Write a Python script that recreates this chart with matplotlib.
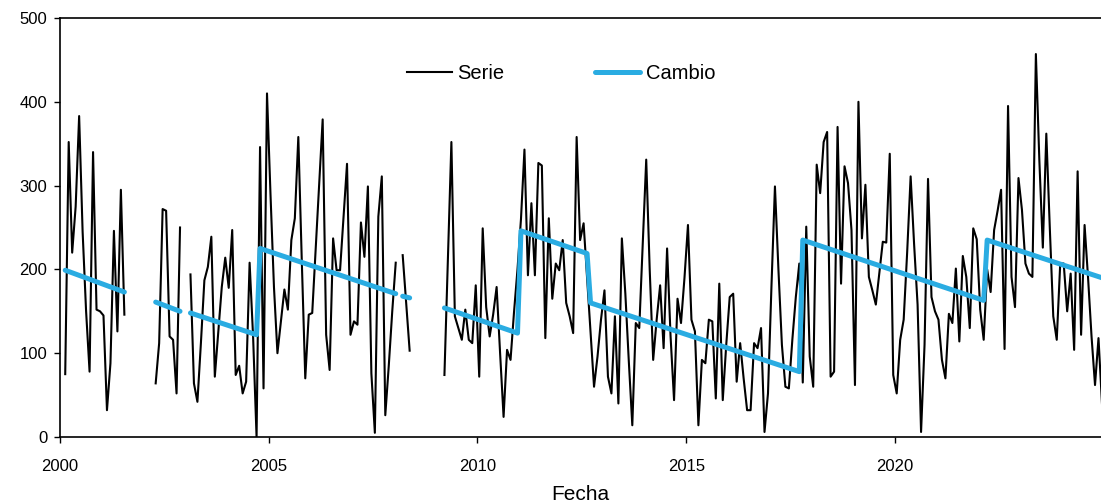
import numpy as np
import matplotlib
matplotlib.use("Agg")
import matplotlib.pyplot as plt

plt.rcParams['font.family'] = ['Liberation Sans', 'DejaVu Sans']

nan = np.nan

# monthly series, Feb 2000 .. Dec 2024 (NaN = no data)
serie_1 = [75, 352, 220, 275, 383, 245, 150, 78, 340, 152, 150, 145, 32, 88, 246, 126, 295, 146]
serie_2 = [64, 112, 272, 270, 120, 116, 52, 250]
serie_3 = [194, 64, 42, 112, 187, 203, 239, 72, 125, 179,
           214, 178, 247, 74, 85, 52, 66, 208, 120, 0,
           346, 58, 410, 290, 179, 100, 138, 176, 152, 235,
           261, 358, 210, 70, 146, 148, 225, 300, 379, 122,
           80, 237, 199, 199, 262, 326, 122, 138, 134, 256,
           215, 299, 76, 5, 263, 311, 26, 85, 150, 208]
serie_4 = [217, 160, 103]
serie_5 = [74, 215, 352, 144, 130, 116, 152, 116, 112, 181,
           72, 249, 155, 120, 146, 179, 100, 24, 104, 92,
           149, 200, 260, 343, 193, 279, 193, 327, 324, 118,
           261, 165, 207, 199, 235, 160, 144, 124, 358, 235,
           255, 190, 125, 60, 96, 140, 175, 72, 52, 144,
           40, 237, 171, 90, 14, 136, 130, 230, 331, 200,
           92, 140, 181, 106, 225, 120, 44, 165, 136, 190,
           253, 140, 126, 14, 92, 88, 140, 138, 46, 183,
           44, 110, 167, 171, 66, 112, 70, 32, 32, 112,
           106, 130, 6, 52, 180, 299, 200, 110, 60, 58,
           116, 167, 207, 65, 251, 96, 60, 325, 291, 352,
           364, 72, 78, 370, 183, 323, 303, 247, 62, 400,
           237, 301, 191, 175, 158, 195, 233, 232, 338, 74,
           52, 116, 140, 220, 311, 230, 158, 6, 110, 308,
           167, 150, 140, 92, 70, 147, 136, 201, 114, 216,
           191, 130, 249, 236, 152, 116, 200, 173, 247, 270,
           295, 105, 395, 191, 155, 309, 271, 207, 195, 191,
           457, 330, 226, 362, 250, 144, 116, 207, 207, 150,
           195, 104, 317, 122, 253, 190, 120, 62, 118, 40]

serie = (serie_1 + [nan] * 8 + serie_2 + [nan] * 2 + serie_3 + [nan]
         + serie_4 + [nan] * 9 + serie_5)

# trend with structural breaks: month index (from Feb 2000) and value
cambio_mes = [0, 17, nan, 26, 33, nan, 36, 55, 56, 95, nan, 97, 99, nan,
              109, 130, 131, 150, 151, 211, 212, 264, 265, 298]
cambio_val = [199, 173, nan, 161, 150, nan, 148, 122, 225, 171, nan, 168, 166, nan,
              154, 124, 246, 219, 160, 78, 235, 163, 235, 190]

anios = [2000, 2005, 2010, 2015, 2020]


def mes_a_anio(m):
    # month index -> decimal year (mid-month, first month = Feb 2000)
    return 2000 + (np.asarray(m, dtype=float) + 1.5) / 12


t = mes_a_anio(np.arange(len(serie)))
t_cambio = mes_a_anio(cambio_mes)

fig = plt.figure(figsize=(11.01, 5.04), dpi=100)
ax = fig.add_axes([60 / 1101, 1 - 437 / 504, 1041 / 1101, 419 / 504])

ax.plot(t, serie, color='black', lw=1.5, label='Serie')
ax.plot(t_cambio, cambio_val, color='#2AACE2', lw=3.6, solid_capstyle='round',
        label='Cambio')

ax.set_xlim(2000, 2024.935)
ax.set_ylim(0, 500)
ax.set_yticks(range(0, 501, 100))
ax.set_xticks(anios)
ax.set_xticklabels([str(a) for a in anios])
ax.tick_params(axis='both', labelsize=12, length=4, width=1, direction='out', pad=5)
ax.tick_params(axis='x', pad=12)
ax.set_xlabel('Fecha', fontsize=15, labelpad=8)

for s in ['left', 'bottom', 'top']:
    ax.spines[s].set_linewidth(1.2)
ax.spines['right'].set_visible(False)

ax.legend(loc='center left', bbox_to_anchor=(0.316, 0.867), ncol=2, frameon=False,
          fontsize=14.5, handlelength=2.25, handletextpad=0.25, columnspacing=4.5)

fig.savefig('out.png', dpi=100)
